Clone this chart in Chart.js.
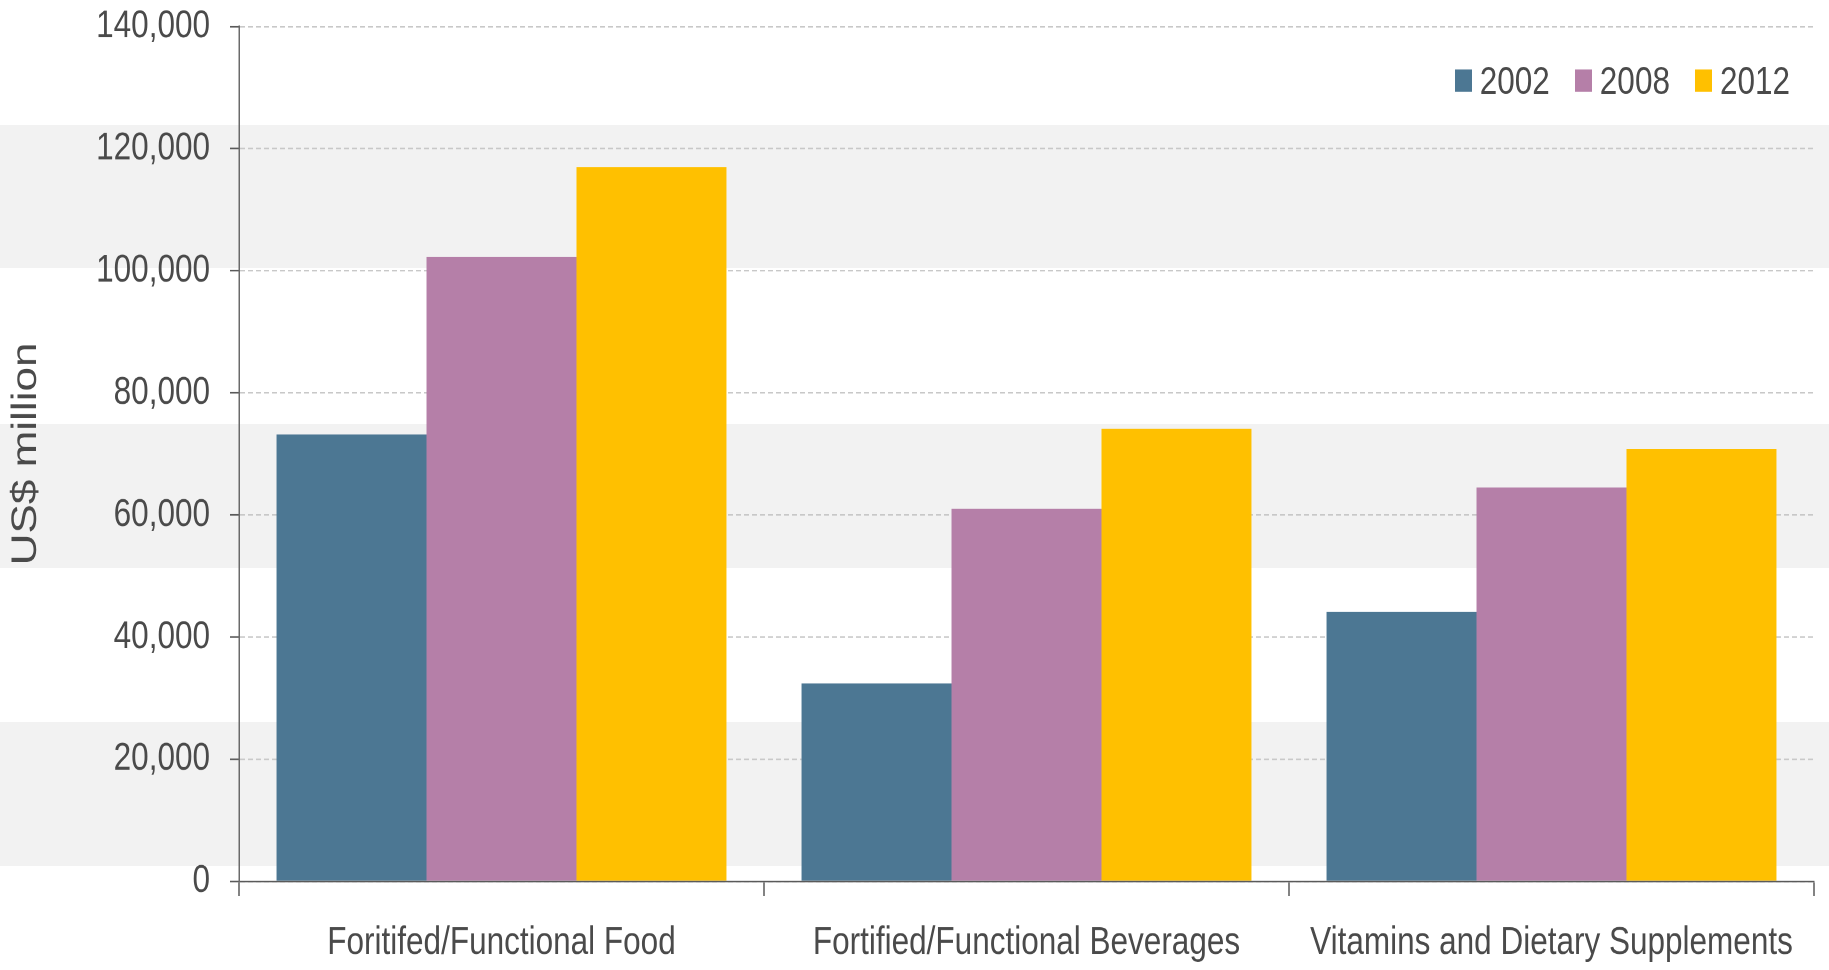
<!DOCTYPE html>
<html>
<head>
<meta charset="utf-8">
<script src="https://cdn.jsdelivr.net/npm/chart.js@4.4.1/dist/chart.umd.min.js"></script>
<style>
  html, body { margin: 0; padding: 0; overflow: hidden; }
  body {
    width: 1829px; height: 970px; position: relative;
    background: linear-gradient(to bottom,
      #ffffff 0px, #ffffff 125px,
      #f2f2f2 125px, #f2f2f2 268px,
      #ffffff 268px, #ffffff 424px,
      #f2f2f2 424px, #f2f2f2 568px,
      #ffffff 568px, #ffffff 722px,
      #f2f2f2 722px, #f2f2f2 866px,
      #ffffff 866px, #ffffff 970px);
  }
  /* the original picture is a vertically stretched export: reproduce that stretch */
  #wrap {
    position: absolute; left: 0; top: 0; width: 1829px; height: 782px;
    transform-origin: 0 0; transform: scaleY(1.2404);
  }
  #chart { position: absolute; left: 0; top: 0; }
  #legend {
    position: absolute; right: 39px; top: 49px; height: 32px;
    display: flex; align-items: center;
    font-family: 'Liberation Sans', Arial, sans-serif;
    font-size: 31.5px; line-height: 32px; color: #4a4a4a;
  }
  #legend .item { display: flex; align-items: center; margin-left: 25px; }
  #legend .item:first-child { margin-left: 0; }
  #legend .sw { width: 17px; height: 18px; margin-right: 8px; }
</style>
</head>
<body>
<div id="wrap">
  <canvas id="chart" width="1829" height="782"></canvas>
  <div id="legend"></div>
</div>
<script>
const categories = ['Foritifed/Functional Food', 'Fortified/Functional Beverages', 'Vitamins and Dietary Supplements'];
const seriesNames = ['2002', '2008', '2012'];
const values2002 = [73200, 32400, 44100];
const values2008 = [102300, 61000, 64500];
const values2012 = [117000, 74100, 70800];
const seriesColors = ['#4c7793', '#b57fa8', '#ffc000'];
const yMin = 0, yMax = 140000, yStep = 20000;
const yTitle = 'US$ million';

const sans = "'Liberation Sans', Arial, sans-serif";
const textColor = '#4a4a4a';
const seriesValues = [values2002, values2008, values2012];

const chart = new Chart(document.getElementById('chart'), {
  type: 'bar',
  data: {
    labels: categories,
    datasets: seriesNames.map((name, i) => ({
      label: name,
      data: seriesValues[i],
      backgroundColor: seriesColors[i],
      borderWidth: 0,
      barPercentage: 1.0,
      categoryPercentage: 0.857
    }))
  },
  options: {
    responsive: false,
    devicePixelRatio: 2,
    animation: false,
    layout: { padding: { left: 0, right: 15, top: 21.4, bottom: 0 } },
    plugins: { legend: { display: false }, tooltip: { enabled: false } },
    scales: {
      x: {
        z: 1,
        offset: true,
        afterFit: (scale) => { scale.height = 71.5; },
        grid: { display: true, offset: true, drawOnChartArea: false, drawTicks: true, tickLength: 12, tickColor: '#5a5a5a', tickWidth: 1.5 },
        border: { display: true, color: '#5a5a5a', width: 1.3 },
        ticks: { color: textColor, font: { family: sans, size: 31.5 }, padding: 19, maxRotation: 0, autoSkip: false }
      },
      y: {
        min: yMin, max: yMax,
        afterFit: (scale) => { scale.width = 239; },
        grid: { color: '#c8c8c8', lineWidth: 1.2, drawTicks: true, tickLength: 9, tickColor: '#5a5a5a', tickWidth: 1.3, tickBorderDash: [] },
        border: { display: true, color: '#6a6a6a', width: 1.5, dash: [5, 3] },
        ticks: {
          stepSize: yStep, color: textColor, padding: 20,
          font: { family: sans, size: 31.5, lineHeight: 0.05 },
          callback: (v) => Number(v).toLocaleString('en-US')
        },
        title: {
          display: true, text: yTitle, color: textColor,
          font: { family: sans, size: 35.5 },
          padding: { top: 5, bottom: 0 }
        }
      }
    }
  }
});

const legend = document.getElementById('legend');
seriesNames.forEach((name, i) => {
  const item = document.createElement('div');
  item.className = 'item';
  const sw = document.createElement('span');
  sw.className = 'sw';
  sw.style.background = seriesColors[i];
  const tx = document.createElement('span');
  tx.textContent = name;
  item.appendChild(sw); item.appendChild(tx);
  legend.appendChild(item);
});
</script>
</body>
</html>
